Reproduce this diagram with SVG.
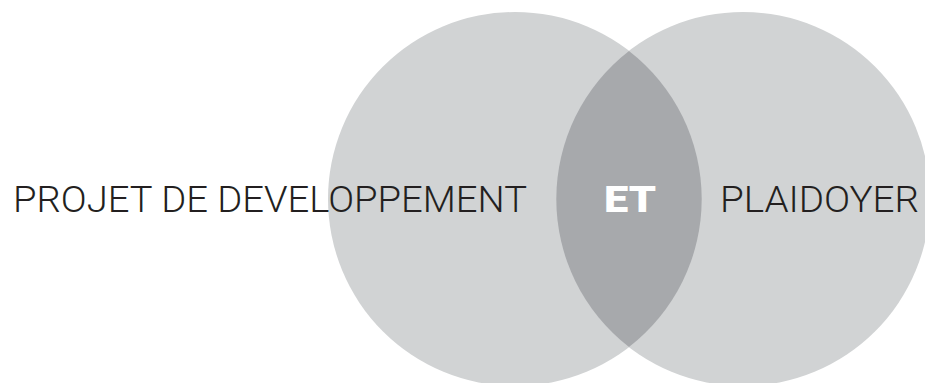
<svg xmlns="http://www.w3.org/2000/svg" width="925" height="383" viewBox="0 0 925 383">
  <style>
    .circle { fill: #d1d3d4; }
    .lens { fill: #a7a9ac; }
    .label { font-family: Roboto, "Liberation Sans", Arial, sans-serif; font-size: 37px; font-weight: 300; fill: #231f20; }
    .mid { font-family: Roboto, "Liberation Sans", Arial, sans-serif; font-size: 37px; font-weight: 900; fill: #ffffff; }
  </style>
  <rect width="925" height="383" fill="#ffffff"/>
  <g id="node-projet">
    <circle class="circle" cx="515" cy="199" r="187"/>
  </g>
  <g id="node-plaidoyer">
    <circle class="circle" cx="743" cy="199" r="187"/>
  </g>
  <g id="node-et">
    <path class="lens" d="M 629 51 A 187 187 0 0 1 629 347 A 187 187 0 0 1 629 51 Z"/>
  </g>
  <g id="connectors"/>
  <g id="labels">
    <text class="label" x="13" y="212" textLength="514" lengthAdjust="spacingAndGlyphs">PROJET DE DEVELOPPEMENT</text>
    <text class="label" x="720" y="212" textLength="199" lengthAdjust="spacingAndGlyphs">PLAIDOYER</text>
    <text class="mid" x="604" y="212" textLength="52" lengthAdjust="spacingAndGlyphs">ET</text>
  </g>
</svg>
